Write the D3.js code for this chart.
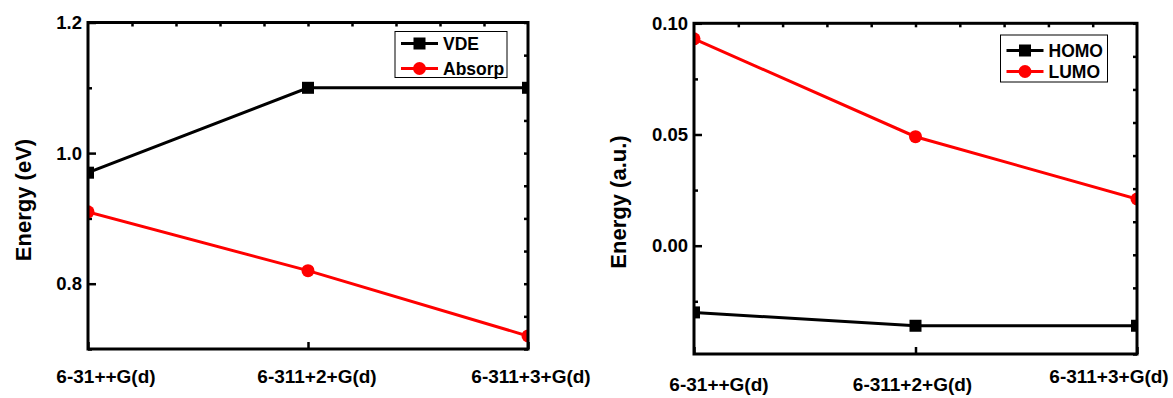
<!DOCTYPE html>
<html>
<head>
<meta charset="utf-8">
<script src="https://d3js.org/d3.v7.min.js"></script>
<style>
  body { margin: 0; background: #fff; }
  text { font-family: Arial, 'Liberation Sans', sans-serif; font-weight: bold; fill: #000; }
</style>
</head>
<body>
<svg id="chart" width="1173" height="398"></svg>
<script>
// basis sets on the x axis
const basisSets = ['6-31++G(d)', '6-311+2+G(d)', '6-311+3+G(d)'];

// left panel: energies in eV
const vde = [0.97, 1.10, 1.10];
const absorp = [0.91, 0.82, 0.72];
const leftTicks = [0.8, 1.0, 1.2];
const leftMinor = [0.7, 0.9, 1.1];

// right panel: orbital energies in a.u.
const homo = [-0.030, -0.036, -0.036];
const lumo = [0.093, 0.049, 0.021];
const rightTicks = [0.00, 0.05, 0.10];
const rightMinor = [-0.025, 0.025, 0.075];

const svg = d3.select('#chart');

function panel(opt) {
  const g = svg.append('g');
  const x = d3.scaleLinear().domain([0, basisSets.length - 1]).range([opt.x0, opt.x1]);
  const y = d3.scaleLinear().domain(opt.yDomain).range([opt.y1, opt.y0]);

  const clipId = 'clip' + opt.id;
  svg.append('clipPath').attr('id', clipId)
    .append('rect')
    .attr('x', opt.x0).attr('y', opt.y0)
    .attr('width', opt.x1 - opt.x0).attr('height', opt.y1 - opt.y0);

  // left axis, ticks inward
  const left = g.append('g').attr('transform', `translate(${opt.x0},0)`)
    .call(d3.axisLeft(y).tickValues(opt.ticks).tickSize(-8).tickPadding(6).tickFormat(d3.format(opt.fmt)));
  left.select('.domain').remove();
  left.selectAll('line').attr('stroke', '#000').attr('stroke-width', 2.5);
  left.selectAll('text').style('font-size', '18.5px').attr('fill', '#000');
  const lm = g.append('g').attr('transform', `translate(${opt.x0},0)`)
    .call(d3.axisLeft(y).tickValues(opt.minor).tickSize(-4).tickFormat(''));
  lm.select('.domain').remove();
  lm.selectAll('line').attr('stroke', '#000').attr('stroke-width', 2.5);

  // top axis minor ticks
  const xMinor = d3.range(0.2, basisSets.length - 1, 0.2);
  const top = g.append('g').attr('transform', `translate(0,${opt.y0})`)
    .call(d3.axisTop(x).tickValues(xMinor).tickSize(-4).tickFormat(''));
  top.select('.domain').remove();
  top.selectAll('line').attr('stroke', '#000').attr('stroke-width', 2.5);

  // right axis, 10 equal divisions
  const d = opt.yDomain;
  const rTicks = d3.range(11).map(i => d[0] + (d[1] - d[0]) * i / 10);
  const right = g.append('g').attr('transform', `translate(${opt.x1},0)`)
    .call(d3.axisRight(y).tickValues(rTicks).tickSize(-4).tickFormat(''));
  right.select('.domain').remove();
  right.selectAll('line').attr('stroke', '#000').attr('stroke-width', 2.5);

  // bottom axis major ticks
  const bottom = g.append('g').attr('transform', `translate(0,${opt.y1})`)
    .call(d3.axisBottom(x).tickValues(d3.range(basisSets.length)).tickSize(-7).tickFormat(''));
  bottom.select('.domain').remove();
  bottom.selectAll('line').attr('stroke', '#000').attr('stroke-width', 2.5);

  // category labels
  g.append('g').selectAll('text').data(basisSets).join('text')
    .attr('x', (s, i) => x(i) + opt.labelDx[i])
    .attr('y', (s, i) => opt.labelY[i])
    .attr('text-anchor', 'middle')
    .style('font-size', '19px')
    .text(s => s);

  // y title
  g.append('text')
    .attr('transform', `translate(${opt.titleX},${opt.titleY}) rotate(-90)`)
    .attr('text-anchor', 'middle')
    .attr('dy', '0.35em')
    .style('font-size', '22px')
    .text(opt.title);

  // series
  const line = d3.line().x((v, i) => x(i)).y(v => y(v));
  const plot = g.append('g').attr('clip-path', `url(#${clipId})`);
  opt.series.forEach(s => {
    plot.append('path').datum(s.values)
      .attr('d', line).attr('fill', 'none')
      .attr('stroke', s.color).attr('stroke-width', 3);
    if (s.shape === 'square') {
      plot.selectAll(null).data(s.values).join('rect')
        .attr('x', (v, i) => x(i) - 6).attr('y', v => y(v) - 6)
        .attr('width', 12).attr('height', 12).attr('fill', s.color);
    } else {
      plot.selectAll(null).data(s.values).join('circle')
        .attr('cx', (v, i) => x(i)).attr('cy', v => y(v))
        .attr('r', 6.5).attr('fill', s.color);
    }
  });

  // frame
  g.append('rect')
    .attr('x', opt.x0).attr('y', opt.y0)
    .attr('width', opt.x1 - opt.x0).attr('height', opt.y1 - opt.y0)
    .attr('fill', 'none').attr('stroke', '#000').attr('stroke-width', 3);

  // legend
  const lg = g.append('g');
  lg.append('rect')
    .attr('x', opt.legend.x).attr('y', opt.legend.y)
    .attr('width', opt.legend.w).attr('height', opt.legend.h)
    .attr('fill', '#fff').attr('stroke', '#000').attr('stroke-width', 1);
  opt.series.forEach((s, i) => {
    const ly = opt.legend.y + opt.legend.first + i * opt.legend.step;
    const lx = opt.legend.x + 6;
    lg.append('line').attr('x1', lx).attr('x2', lx + 37).attr('y1', ly).attr('y2', ly)
      .attr('stroke', s.color).attr('stroke-width', 3);
    if (s.shape === 'square') {
      lg.append('rect').attr('x', lx + 18.5 - 6).attr('y', ly - 6)
        .attr('width', 12).attr('height', 12).attr('fill', s.color);
    } else {
      lg.append('circle').attr('cx', lx + 18.5).attr('cy', ly).attr('r', 6.5).attr('fill', s.color);
    }
    lg.append('text').attr('x', lx + 42).attr('y', ly).attr('dy', '0.35em')
      .style('font-size', '17.5px').text(s.name);
  });
}

panel({
  id: 'L', x0: 88, x1: 528, y0: 22.5, y1: 349,
  yDomain: [0.7, 1.2], ticks: leftTicks, minor: leftMinor, fmt: '.1f',
  labelDx: [18, 9, 3], labelY: [383, 383, 383],
  title: 'Energy (eV)', titleX: 23, titleY: 200,
  series: [
    { name: 'VDE', values: vde, color: '#000', shape: 'square' },
    { name: 'Absorp', values: absorp, color: '#ff0000', shape: 'circle' }
  ],
  legend: { x: 395, y: 31.5, w: 112, h: 46, first: 12, step: 25 }
});

panel({
  id: 'R', x0: 694, x1: 1137, y0: 23.3, y1: 354,
  yDomain: [-0.0487, 0.10], ticks: rightTicks, minor: rightMinor, fmt: '.2f',
  labelDx: [25, -3, -28], labelY: [391, 391, 383],
  title: 'Energy (a.u.)', titleX: 618, titleY: 202,
  series: [
    { name: 'HOMO', values: homo, color: '#000', shape: 'square' },
    { name: 'LUMO', values: lumo, color: '#ff0000', shape: 'circle' }
  ],
  legend: { x: 1000.5, y: 35, w: 107, h: 47, first: 15.5, step: 21 }
});
</script>
</body>
</html>
